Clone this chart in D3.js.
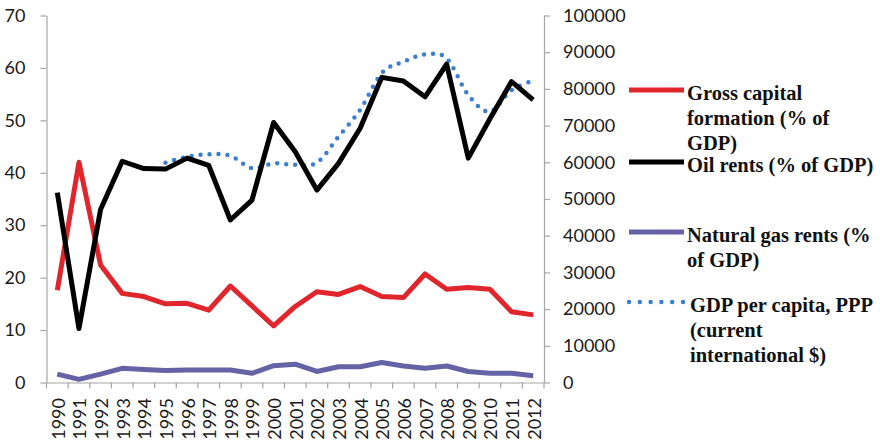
<!DOCTYPE html>
<html>
<head>
<meta charset="utf-8">
<script src="https://cdn.jsdelivr.net/npm/d3@7"></script>
<style>
  html, body { margin: 0; padding: 0; background: #fff; }
  svg { display: block; }
  .tick text { font-family: Lato, "Open Sans", sans-serif; font-size: 18px; fill: #1a1a1a; }
  .legend text { font-family: "Liberation Serif", "Times New Roman", serif; font-weight: bold; font-size: 20.5px; fill: #111; }
</style>
</head>
<body>
<script>
// Years on the category axis
const years = ["1990","1991","1992","1993","1994","1995","1996","1997","1998","1999","2000",
               "2001","2002","2003","2004","2005","2006","2007","2008","2009","2010","2011","2012"];

// Left axis series (% of GDP)
const capitalFormation = [17.6, 42.0, 22.4, 17.0, 16.4, 15.0, 15.1, 13.8, 18.4, 14.6, 10.8,
                          14.5, 17.3, 16.8, 18.3, 16.4, 16.2, 20.7, 17.8, 18.1, 17.8, 13.5, 12.9];
const oilRents = [36.2, 10.3, 33.0, 42.2, 40.8, 40.7, 42.8, 41.4, 31.0, 34.8, 49.6,
                  44.0, 36.7, 41.8, 48.5, 58.2, 57.5, 54.5, 60.7, 42.8, 50.3, 57.4, 53.9];
const gasRents = [1.6, 0.6, 1.6, 2.7, 2.5, 2.3, 2.4, 2.4, 2.4, 1.75, 3.2,
                  3.5, 2.1, 3.0, 3.0, 3.8, 3.15, 2.7, 3.15, 2.1, 1.75, 1.75, 1.3];

// Right axis series (current international $), starts in 1995
const gdpPerCapita = [null, null, null, null, null, 59900, 61500, 62200, 61800, 58400, 59700,
                      59300, 59900, 67000, 74300, 84300, 87400, 89400, 88300, 78300, 73800, 79700, 82200];

// Axis ticks
const leftTicks = [0, 10, 20, 30, 40, 50, 60, 70];
const rightTicks = [0, 10000, 20000, 30000, 40000, 50000, 60000, 70000, 80000, 90000, 100000];

// Legend entries
const legendLabels = [
  ["Gross capital", "formation (% of", "GDP)"],
  ["Oil rents (% of GDP)"],
  ["Natural gas rents (%", "of GDP)"],
  ["GDP per capita, PPP", "(current", "international $)"]
];

const W = 880, H = 440;
const plot = { left: 46.5, right: 544, top: 15.5, bottom: 382.5 };
const axisColor = "#a6a6a6";
const colors = { red: "#e1252c", black: "#000000", purple: "#6562a6", blue: "#3b7fd0" };

const svg = d3.select("body").append("svg").attr("width", W).attr("height", H);

const x = d3.scaleBand().domain(years).range([plot.left, plot.right]).paddingInner(0).paddingOuter(0);
const yL = d3.scaleLinear().domain([0, 70]).range([plot.bottom, plot.top]);
const yR = d3.scaleLinear().domain([0, 100000]).range([plot.bottom, plot.top]);
const cx = d => x(d) + x.bandwidth() / 2;

// Left axis
const gL = svg.append("g").attr("transform", `translate(${plot.left},0)`)
  .call(d3.axisLeft(yL).tickValues(leftTicks).tickSize(6).tickPadding(15).tickSizeOuter(0));
// Right axis
const gR = svg.append("g").attr("transform", `translate(${plot.right},0)`)
  .call(d3.axisRight(yR).tickValues(rightTicks).tickFormat(d3.format("d"))
    .tickSize(6).tickPadding(13).tickSizeOuter(0));
[gL, gR].forEach(g => {
  g.select(".domain").attr("stroke", axisColor).attr("stroke-width", 1.2);
  g.selectAll(".tick line").attr("stroke", axisColor).attr("stroke-width", 1.2);
});

// Category axis: ticks between categories, labels rotated
const gX = svg.append("g").attr("transform", `translate(0,${plot.bottom})`)
  .call(d3.axisBottom(x).tickSize(0).tickPadding(0).tickSizeOuter(0));
gX.select(".domain").attr("stroke", axisColor).attr("stroke-width", 1.2);
gX.selectAll(".tick text")
  .attr("text-anchor", "end")
  .attr("transform", "translate(1,15.5) rotate(-90)")
  .attr("x", 0).attr("y", 0).attr("dy", "0.36em");
const bounds = years.map(d => x(d)).concat([plot.right]);
gX.selectAll("line.sep").data(bounds).join("line").attr("class", "sep")
  .attr("x1", d => d).attr("x2", d => d).attr("y1", 0).attr("y2", 6)
  .attr("stroke", axisColor).attr("stroke-width", 1.2);

// Series lines
const idx = d3.range(years.length);
const lineL = arr => d3.line().x(i => cx(years[i])).y(i => yL(arr[i]))(idx);

svg.append("path").attr("d", lineL(gasRents))
  .attr("fill", "none").attr("stroke", colors.purple).attr("stroke-width", 5)
  .attr("stroke-linejoin", "round");
svg.append("path").attr("d", lineL(capitalFormation))
  .attr("fill", "none").attr("stroke", colors.red).attr("stroke-width", 5)
  .attr("stroke-linejoin", "round");

const gdpLine = d3.line()
  .defined(i => gdpPerCapita[i] != null)
  .x(i => cx(years[i])).y(i => yR(gdpPerCapita[i]))
  .curve(d3.curveCardinal.tension(0));
svg.append("path").attr("d", gdpLine(idx))
  .attr("fill", "none").attr("stroke", colors.blue).attr("stroke-width", 4.5)
  .attr("stroke-linecap", "round").attr("stroke-dasharray", "0 9");

svg.append("path").attr("d", lineL(oilRents))
  .attr("fill", "none").attr("stroke", colors.black).attr("stroke-width", 5)
  .attr("stroke-linejoin", "round");

// Legend
const legendItems = [
  { y: 90, color: colors.red, dotted: false },
  { y: 162, color: colors.black, dotted: false },
  { y: 232, color: colors.purple, dotted: false },
  { y: 302, color: colors.blue, dotted: true }
];
const lg = svg.append("g").attr("class", "legend");
legendItems.forEach((item, k) => {
  const ln = lg.append("line")
    .attr("x1", 629).attr("x2", 684).attr("y1", item.y).attr("y2", item.y)
    .attr("stroke", item.color);
  if (item.dotted) {
    ln.attr("stroke-width", 4.5).attr("stroke-linecap", "round").attr("stroke-dasharray", "0 10.8");
  } else {
    ln.attr("stroke-width", 5);
  }
  const tx = item.dotted ? 690 : 687;
  const t = lg.append("text").attr("x", tx).attr("y", item.y + 10);
  legendLabels[k].forEach((s, j) => {
    t.append("tspan").attr("x", tx).attr("dy", j === 0 ? 0 : 25).text(s);
  });
});
</script>
</body>
</html>
